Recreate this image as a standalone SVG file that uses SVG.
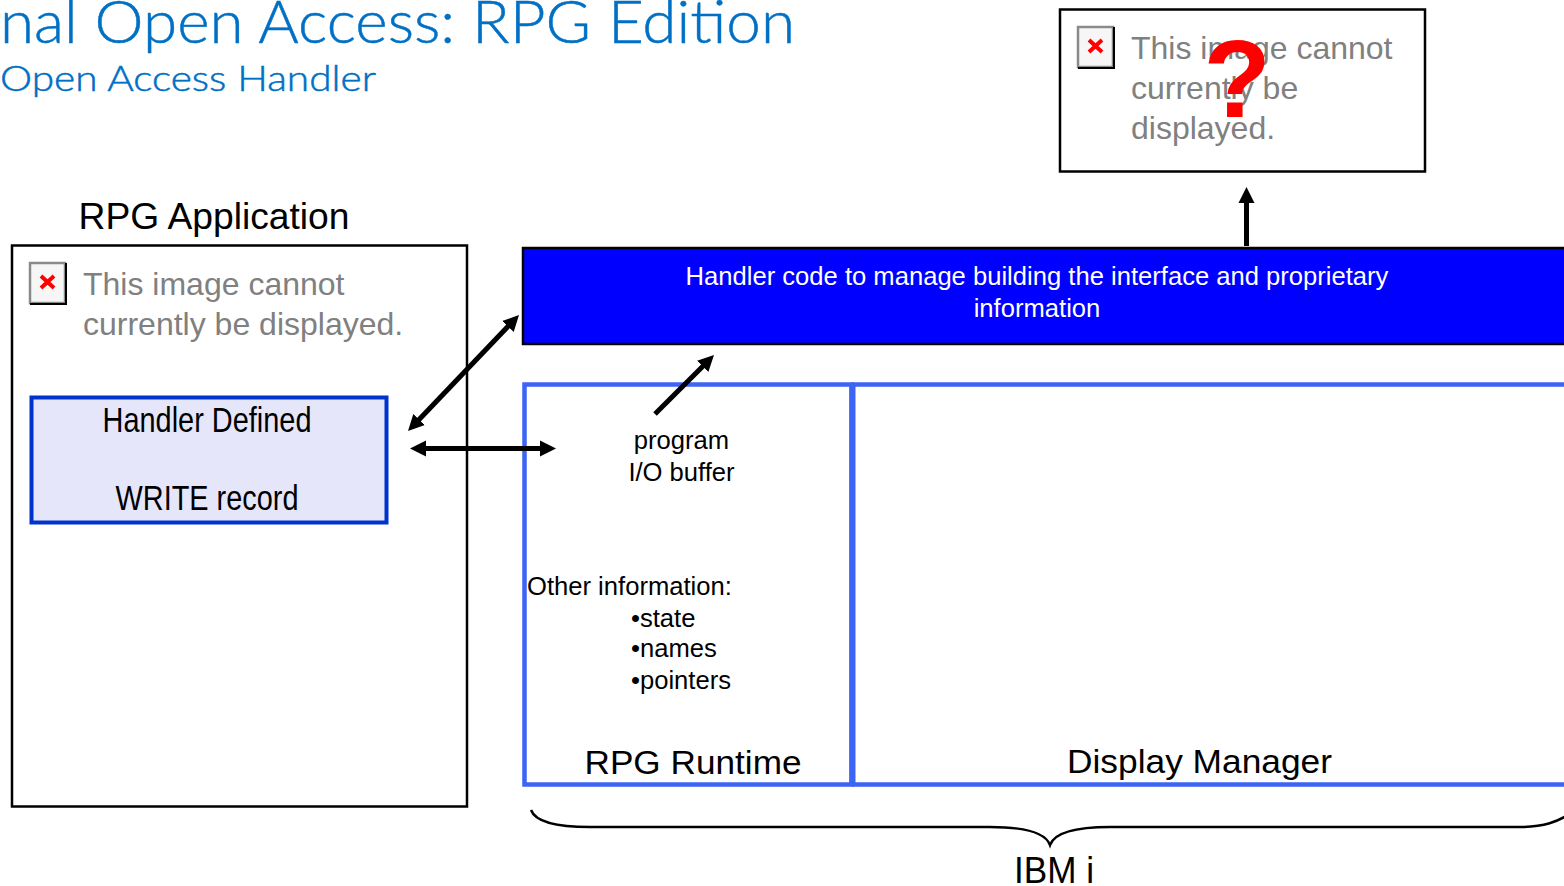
<svg xmlns="http://www.w3.org/2000/svg" width="1564" height="886" viewBox="0 0 1564 886">
<style>
text{font-family:"Liberation Sans",Arial,sans-serif;fill:#000}
.t{font-family:"Lato","Liberation Sans",sans-serif;font-weight:300;fill:#0070c5;stroke:#0070c5;stroke-width:.5}
.g{fill:#808080;font-size:32px}
.b{fill:#fff;stroke:#000;stroke-width:2.5}
.m{text-anchor:middle}
.s{font-size:25.600px}
.r{fill:none;stroke:#3c64f5;stroke-width:4.500}
.c{fill:none;stroke:#000;stroke-width:5}
</style>
<defs>
<marker id="a" markerUnits="userSpaceOnUse" markerWidth="18" markerHeight="18" refX="2" refY="9" orient="auto-start-reverse"><path d="M0 1L16 9L0 17Z" fill="#000"/></marker>
<g id="broken"><rect x="1" y="1" width="35" height="40" fill="#f6f6f6" stroke="#8a8a8a" stroke-width="2.500"/><path d="M37 1V42H1" fill="none" stroke="#000" stroke-width="2"/><path d="M12 14L25 26M25 14L12 26" stroke="#f00" stroke-width="4"/></g>
</defs>
<g id="title">
<text class="t" x="0" y="43" font-size="60" textLength="795" lengthAdjust="spacingAndGlyphs">nal Open Access: RPG Edition</text>
<text class="t" x="0" y="91" font-size="35" textLength="376" lengthAdjust="spacingAndGlyphs">Open Access Handler</text>
</g>
<g id="image-top">
<rect class="b" x="1060" y="9.500" width="365" height="162"/>
<use href="#broken" x="1077" y="26"/>
<text class="g" x="1131" y="59">This image cannot</text>
<text class="g" x="1131" y="99">currently be</text>
<text class="g" x="1131" y="139">displayed.</text>
<text x="1237" y="117" font-size="110" font-weight="bold" class="m" style="fill:#f00">?</text>
</g>
<g id="rpg-application">
<text x="214" y="229" font-size="36" class="m" textLength="271" lengthAdjust="spacingAndGlyphs">RPG Application</text>
<rect class="b" x="12" y="245.500" width="455" height="561"/>
<use href="#broken" x="29" y="262"/>
<text class="g" x="83" y="295">This image cannot</text>
<text class="g" x="83" y="335">currently be displayed.</text>
</g>
<g id="handler-record">
<rect x="31.500" y="397.500" width="355" height="125" fill="#e6e6fb" stroke="#0033cc" stroke-width="4"/>
<text x="207" y="432" font-size="35" class="m" textLength="209" lengthAdjust="spacingAndGlyphs">Handler Defined</text>
<text x="207" y="510" font-size="35" class="m" textLength="183" lengthAdjust="spacingAndGlyphs">WRITE record</text>
</g>
<g id="handler-code">
<rect x="523" y="248" width="1045" height="96" fill="#00f" stroke="#000" stroke-width="2.500"/>
<text x="1037" y="285" class="m s" style="fill:#fff">Handler code to manage building the interface and proprietary</text>
<text x="1037" y="317" class="m s" style="fill:#fff">information</text>
</g>
<g id="rpg-runtime">
<rect class="r" x="524.500" y="384.500" width="327" height="400"/>
<text x="681.500" y="449" class="m s">program</text>
<text x="681.500" y="481" class="m s">I/O buffer</text>
<text x="527" y="595" class="s">Other information:</text>
<text x="631" y="627" class="s">•state</text>
<text x="631" y="657" class="s">•names</text>
<text x="631" y="689" class="s">•pointers</text>
<text x="693" y="774" font-size="34" class="m" textLength="217" lengthAdjust="spacingAndGlyphs">RPG Runtime</text>
</g>
<g id="display-manager">
<path class="r" d="M851.500 384.500H1570V784.500H851.500"/>
<path d="M852.500 384V785" stroke="#3c64f5" stroke-width="6"/>
<text x="1199.500" y="773" font-size="34" class="m" textLength="265" lengthAdjust="spacingAndGlyphs">Display Manager</text>
</g>
<g id="ibm-i">
<path d="M531 810C535 821 555 827 590 827H990C1020 827 1045 831 1050 845C1055 831 1080 827 1110 827H1520C1545 827 1558 821 1568 815" fill="none" stroke="#000" stroke-width="2.500"/>
<text x="1054" y="883" font-size="37" class="m" textLength="80" lengthAdjust="spacingAndGlyphs">IBM i</text>
</g>
<g id="connectors">
<path class="c" d="M1246.500 246V201" marker-end="url(#a)"/>
<path class="c" d="M417.700 420.900L509.300 325.100" marker-start="url(#a)" marker-end="url(#a)"/>
<path class="c" d="M424 448.500H542" marker-start="url(#a)" marker-end="url(#a)"/>
<path class="c" d="M655 414L704.100 364.900" marker-end="url(#a)"/>
</g>
</svg>
